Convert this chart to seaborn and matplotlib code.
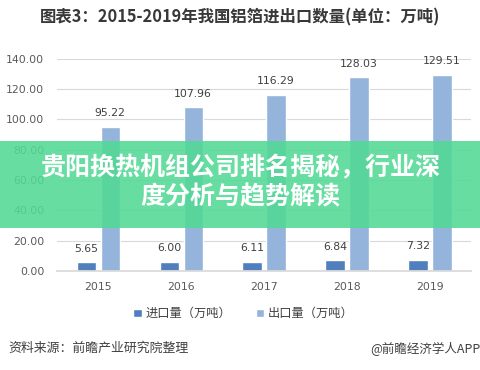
import pandas as pd
import matplotlib
matplotlib.use("Agg")
import matplotlib.pyplot as plt
import seaborn as sns
from matplotlib.patches import Rectangle

# 数据
years = ["2015", "2016", "2017", "2018", "2019"]
import_vals = [5.65, 6.00, 6.11, 6.84, 7.32]
export_vals = [95.22, 107.96, 116.29, 128.03, 129.51]
series = ["进口量（万吨）", "出口量（万吨）"]
yticks = [0, 20, 40, 60, 80, 100, 120, 140]

sns.set_theme(style="white")
plt.rcParams["font.family"] = ["Noto Sans CJK SC", "DejaVu Sans"]

df = pd.DataFrame({
    "年份": years * 2,
    "系列": [series[0]] * len(years) + [series[1]] * len(years),
    "数量": import_vals + export_vals,
})

fig = plt.figure(figsize=(4.81, 3.70), dpi=100)
ax = fig.add_axes([0.118, 0.268, 0.862, 0.573])

sns.barplot(data=df, x="年份", y="数量", hue="系列", order=years, hue_order=series,
            palette=["#4f7fbc", "#95b4dc"], saturation=1, width=0.58, gap=0.2,
            ax=ax, legend=True)

for cont in ax.containers:
    ax.bar_label(cont, fmt="%.2f", padding=6, fontsize=7.8, color="#404040",
                 family=["DejaVu Sans"])

ax.set_ylim(0, 140)
ax.set_yticks(yticks)
ax.set_yticklabels([f"{v:.2f}" for v in yticks], fontsize=7.8, color="#595959",
                   family=["DejaVu Sans"])
ax.set_xticks(range(len(years)))
ax.set_xticklabels(years, fontsize=7.8, color="#595959", family=["DejaVu Sans"])
ax.set_xlabel("")
ax.set_ylabel("")
ax.grid(axis="y", color="#d9d9d9", linewidth=0.8)
ax.set_axisbelow(True)
for s in ["left", "right", "top"]:
    ax.spines[s].set_visible(False)
ax.spines["bottom"].set_color("#d9d9d9")
ax.tick_params(axis="both", length=0, pad=8)
ax.tick_params(axis="y", pad=9)

ax.legend(loc="upper center", bbox_to_anchor=(0.45, -0.12), ncol=2, frameon=False,
          fontsize=8.8, handlelength=0.7, handleheight=0.7, handletextpad=0.3,
          columnspacing=2.0, labelcolor="#404040")

fig.text(0.5, 0.953, "图表3：2015-2019年我国铝箔进出口数量(单位：万吨)",
         ha="center", va="center", fontsize=11.8, fontweight="bold", color="#383838")
fig.text(0.017, 0.058, "资料来源：前瞻产业研究院整理", ha="left", va="center",
         fontsize=9.3, color="#404040")
fig.text(0.998, 0.058, "@前瞻经济学人APP", ha="right", va="center",
         fontsize=9, color="#404040")

# 绿色横幅
fig.patches.append(Rectangle((0, 1 - 228 / 370), 1, 87 / 370, transform=fig.transFigure,
                             facecolor="#52d995", alpha=0.88, edgecolor="none", zorder=5))
fig.text(0.5, 1 - 167 / 370, "贵阳换热机组公司排名揭秘，行业深", ha="center", va="center",
         fontsize=18, fontweight="bold", color="white", zorder=6)
fig.text(0.5, 1 - 197 / 370, "度分析与趋势解读", ha="center", va="center",
         fontsize=18, fontweight="bold", color="white", zorder=6)

fig.savefig("out.png", dpi=100)
